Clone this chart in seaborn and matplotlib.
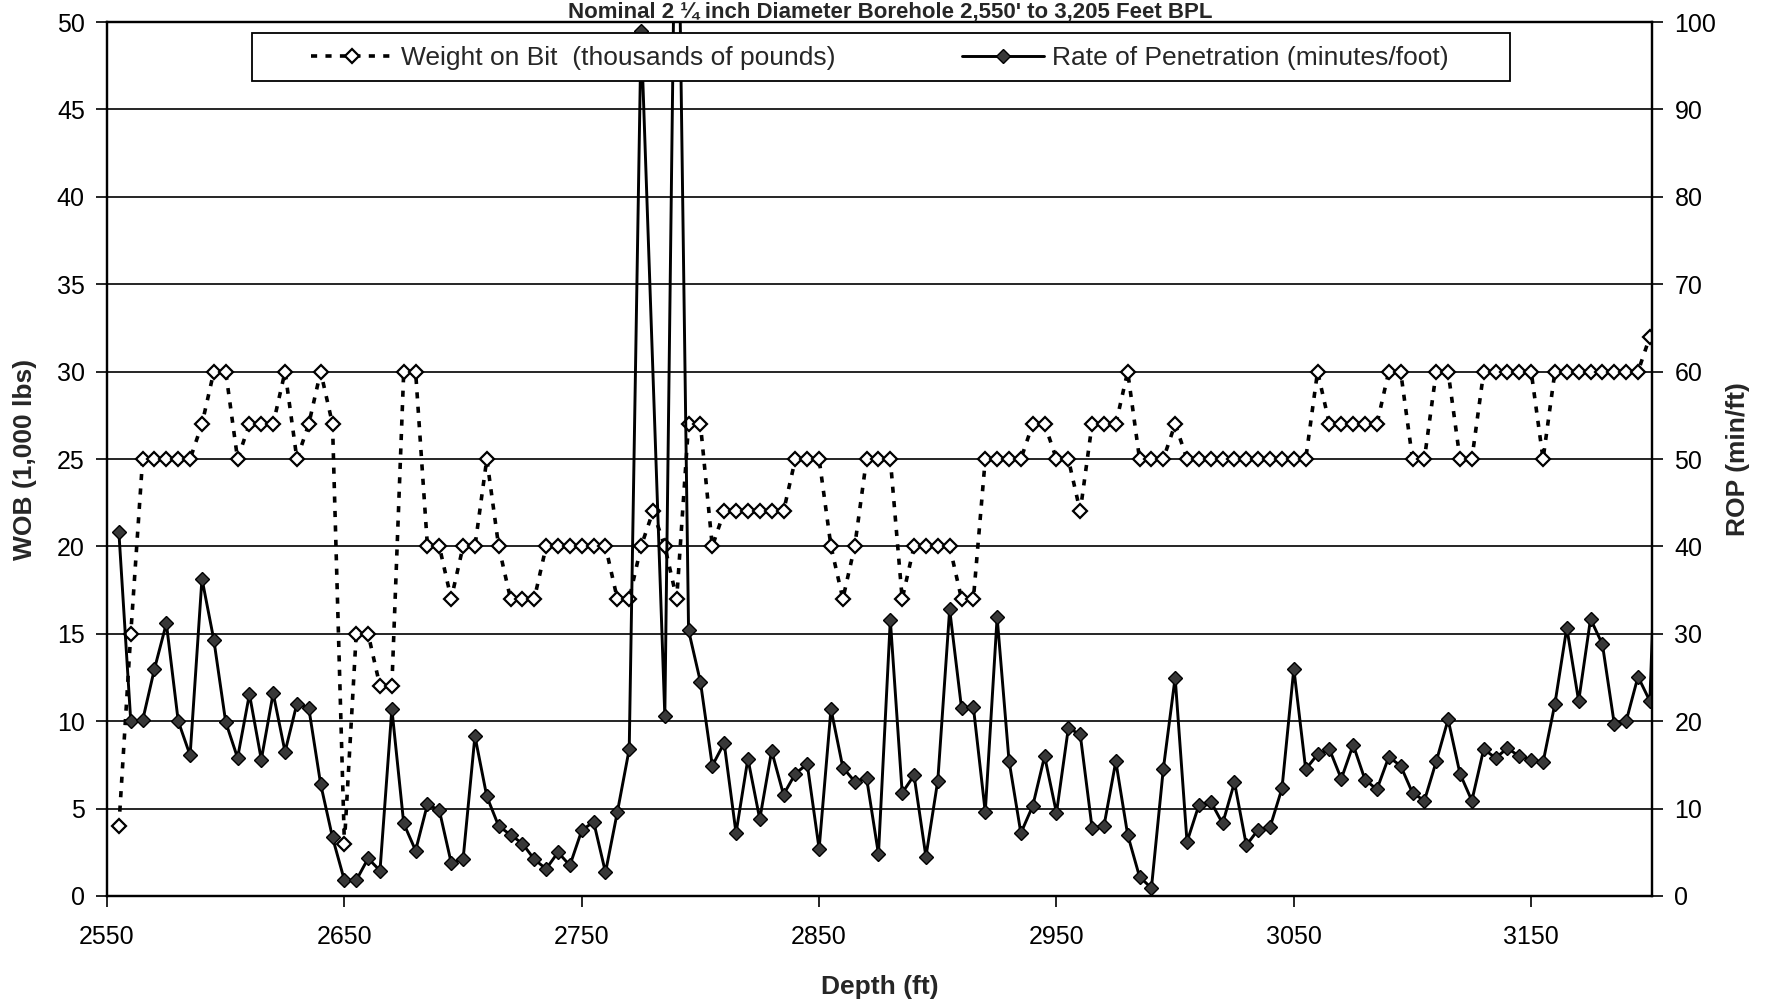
import numpy as np
import pandas as pd
import seaborn as sns
import matplotlib
matplotlib.use("Agg")
import matplotlib.pyplot as plt
from matplotlib.patches import Rectangle

nan = np.nan

# profundidad cada 5 pies
depth = [2555, 2560, 2565, 2570, 2575, 2580, 2585, 2590, 2595, 2600,
         2605, 2610, 2615, 2620, 2625, 2630, 2635, 2640, 2645, 2650,
         2655, 2660, 2665, 2670, 2675, 2680, 2685, 2690, 2695, 2700,
         2705, 2710, 2715, 2720, 2725, 2730, 2735, 2740, 2745, 2750,
         2755, 2760, 2765, 2770, 2775, 2780, 2785, 2790, 2795, 2800,
         2805, 2810, 2815, 2820, 2825, 2830, 2835, 2840, 2845, 2850,
         2855, 2860, 2865, 2870, 2875, 2880, 2885, 2890, 2895, 2900,
         2905, 2910, 2915, 2920, 2925, 2930, 2935, 2940, 2945, 2950,
         2955, 2960, 2965, 2970, 2975, 2980, 2985, 2990, 2995, 3000,
         3005, 3010, 3015, 3020, 3025, 3030, 3035, 3040, 3045, 3050,
         3055, 3060, 3065, 3070, 3075, 3080, 3085, 3090, 3095, 3100,
         3105, 3110, 3115, 3120, 3125, 3130, 3135, 3140, 3145, 3150,
         3155, 3160, 3165, 3170, 3175, 3180, 3185, 3190, 3195, 3200,
         3205]

# peso sobre la broca (miles de libras)
wob = [4, 15, 25, 25, 25, 25, 25, 27, 30, 30,
       25, 27, 27, 27, 30, 25, 27, 30, 27, 3,
       15, 15, 12, 12, 30, 30, 20, 20, 17, 20,
       20, 25, 20, 17, 17, 17, 20, 20, 20, 20,
       20, 20, 17, 17, 20, 22, 20, 17, 27, 27,
       20, 22, 22, 22, 22, 22, 22, 25, 25, 25,
       20, 17, 20, 25, 25, 25, 17, 20, 20, 20,
       20, 17, 17, 25, 25, 25, 25, 27, 27, 25,
       25, 22, 27, 27, 27, 30, 25, 25, 25, 27,
       25, 25, 25, 25, 25, 25, 25, 25, 25, 25,
       25, 30, 27, 27, 27, 27, 27, 30, 30, 25,
       25, 30, 30, 25, 25, 30, 30, 30, 30, 30,
       25, 30, 30, 30, 30, 30, 30, 30, 30, 32,
       nan]

# tasa de penetracion (min/pie)
rop = [41.6, 20.0, 20.1, 26.0, 31.2, 20.0, 16.1, 36.3, 29.3, 19.9,
       15.8, 23.1, 15.6, 23.2, 16.5, 22.0, 21.5, 12.8, 6.7, 1.8,
       1.8, 4.3, 2.9, 21.4, 8.3, 5.2, 10.5, 9.8, 3.8, 4.2,
       18.3, 11.4, 8.0, 7.0, 6.0, 4.2, 3.1, 5.0, 3.5, 7.5,
       8.5, 2.7, 9.6, 16.8, 99.0, nan, 20.6, 130.0, 30.4, 24.5,
       14.9, 17.5, 7.2, 15.7, 8.8, 16.6, 11.6, 14.0, 15.1, 5.4,
       21.4, 14.7, 13.1, 13.5, 4.8, 31.6, 11.8, 13.8, 4.5, 13.2,
       32.8, 21.5, 21.6, 9.6, 31.9, 15.5, 7.2, 10.3, 16.0, 9.5,
       19.2, 18.5, 7.8, 8.0, 15.4, 7.0, 2.2, 0.9, 14.5, 25.0,
       6.2, 10.4, 10.8, 8.3, 13.0, 5.8, 7.6, 7.9, 12.3, 26.0,
       14.5, 16.2, 16.8, 13.4, 17.3, 13.3, 12.2, 15.9, 14.9, 11.8,
       10.9, 15.4, 20.2, 14.0, 10.9, 16.8, 15.8, 16.9, 16.0, 15.6,
       15.3, 22.0, 30.7, 22.3, 31.7, 28.8, 19.7, 20.0, 25.1, 22.3,
       60.0]

x_ticks = [2550, 2650, 2750, 2850, 2950, 3050, 3150]
wob_ticks = [0, 5, 10, 15, 20, 25, 30, 35, 40, 45, 50]
rop_ticks = [0, 10, 20, 30, 40, 50, 60, 70, 80, 90, 100]

titulo = "Nominal 2 \u00bc inch Diameter Borehole 2,550' to 3,205 Feet BPL"
lab_wob = "Weight on Bit  (thousands of pounds)"
lab_rop = "Rate of Penetration (minutes/foot)"

df = pd.DataFrame({"Depth": depth, "WOB": wob, "ROP": rop})

sns.set_style("white")
plt.rcParams["font.family"] = ["Liberation Sans", "DejaVu Sans"]

fig = plt.figure(figsize=(17.69, 10.02), dpi=100)
ax = fig.add_axes([0.0605, 0.1058, 0.8735, 0.8722])
ax2 = ax.twinx()

sns.lineplot(data=df, x="Depth", y="WOB", ax=ax, color="black",
             marker="D", markersize=7.3, markerfacecolor="white",
             markeredgecolor="black", markeredgewidth=1.6,
             linestyle=(0, (1.7, 2.3)), linewidth=2.6,
             errorbar=None, legend=False)
sns.lineplot(data=df, x="Depth", y="ROP", ax=ax2, color="black",
             marker="D", markersize=7.3, markerfacecolor="#383838",
             markeredgecolor="black", markeredgewidth=1.0,
             linewidth=2.1, errorbar=None, legend=False)

ax.set_xlim(2550, 3201)
ax.set_ylim(0, 50)
ax2.set_ylim(0, 100)
ax.set_xticks(x_ticks)
ax.set_yticks(wob_ticks)
ax2.set_yticks(rop_ticks)

ax.grid(axis="y", color="black", linewidth=1.2)
ax.grid(axis="x", visible=False)
ax2.grid(False)

for a in (ax, ax2):
    for s in a.spines.values():
        s.set_color("black")
        s.set_linewidth(1.6)

ax.tick_params(axis="x", direction="out", length=8, width=1.2,
               labelsize=18, pad=13, bottom=True, colors="black")
ax.tick_params(axis="y", direction="out", length=8, width=1.2,
               labelsize=18, pad=8, left=True, colors="black")
ax2.tick_params(axis="y", direction="out", length=8, width=1.2,
                labelsize=18, pad=8, right=True, colors="black")

ax.set_xlabel("Depth (ft)", fontsize=19, fontweight="bold")
ax.set_ylabel("WOB (1,000 lbs)", fontsize=19, fontweight="bold")
ax2.set_ylabel("ROP (min/ft)", fontsize=19, fontweight="bold")
ax.xaxis.set_label_coords(0.5, -0.09)
ax.yaxis.set_label_coords(-0.045, 0.5)
ax2.yaxis.set_label_coords(1.048, 0.5)

# cuadro de leyenda (tapa las lineas detras)
caja = Rectangle((0.094, 0.932), 0.814, 0.055, transform=ax2.transAxes,
                 facecolor="white", edgecolor="black", linewidth=1.3,
                 zorder=5)
ax2.add_patch(caja)
leg = ax2.legend(handles=[ax.lines[0], ax2.lines[0]], labels=[lab_wob, lab_rop],
                 loc="center left", bbox_to_anchor=(0.132, 0.959), ncol=2,
                 frameon=False, fontsize=19, handlelength=3.1,
                 handletextpad=0.3, columnspacing=4.8, borderpad=0,
                 borderaxespad=0)
leg.set_zorder(6)

# titulo arriba, en la franja sobre el grafico
fig.text(890 / 1769, 0.999, titulo, ha="center", va="top",
         fontsize=16, fontweight="bold")

fig.savefig("out.png", dpi=100)
